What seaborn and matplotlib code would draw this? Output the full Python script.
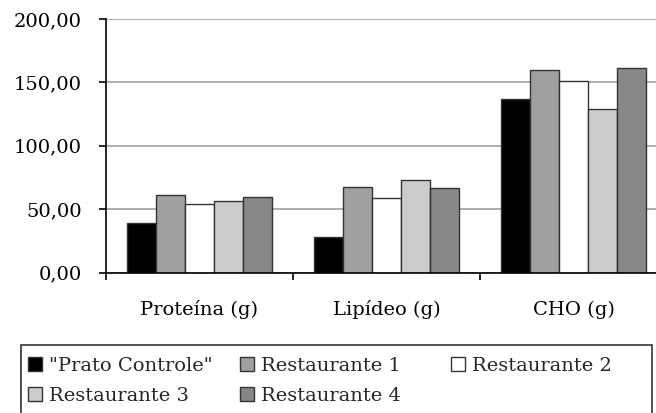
import matplotlib
matplotlib.use('Agg')
import matplotlib.pyplot as plt
import seaborn as sns
import pandas as pd
from matplotlib.patches import Rectangle
from matplotlib.ticker import FuncFormatter

# data
categories = ['Proteína (g)', 'Lipídeo (g)', 'CHO (g)']
groups = ['"Prato Controle"', 'Restaurante 1', 'Restaurante 2',
          'Restaurante 3', 'Restaurante 4']
prato_controle = [39.4, 27.9, 136.7]
restaurante_1 = [61.5, 67.6, 159.9]
restaurante_2 = [54.2, 58.7, 151.4]
restaurante_3 = [56.3, 73.1, 129.1]
restaurante_4 = [59.7, 66.5, 161.2]
colors = ['#000000', '#a0a0a0', '#ffffff', '#cccccc', '#878787']

series = [prato_controle, restaurante_1, restaurante_2, restaurante_3, restaurante_4]
rows = []
for name, values in zip(groups, series):
    for cat, v in zip(categories, values):
        rows.append({'nutriente': cat, 'grupo': name, 'valor': v})
df = pd.DataFrame(rows)

W, H = 656, 413
sns.set_style('white')
plt.rcParams['font.family'] = ['DejaVu Serif']

fig = plt.figure(figsize=(W / 100, H / 100), dpi=100)
ax = fig.add_axes([106 / W, 1 - 272.7 / H, 561 / W, 253.7 / H])

sns.barplot(data=df, x='nutriente', y='valor', hue='grupo',
            order=categories, hue_order=groups, palette=colors,
            width=0.775, saturation=1, edgecolor='#333333', linewidth=1,
            ax=ax)

ax.set_xlim(-0.5, 2.5)
ax.set_ylim(0, 200)
ax.set_yticks([0, 50, 100, 150, 200])
ax.yaxis.set_major_formatter(FuncFormatter(lambda v, p: f'{v:.2f}'.replace('.', ',')))
ax.grid(axis='y', color='#a0a0a0', linewidth=1.2)
ax.grid(axis='x', visible=False)
ax.set_axisbelow(True)
ax.set_xlabel('')
ax.set_ylabel('')

for side in ['top', 'right']:
    ax.spines[side].set_visible(False)
for side in ['left', 'bottom']:
    ax.spines[side].set_color('black')
    ax.spines[side].set_linewidth(1.2)

# boundary ticks between groups, labels at group centres
ax.set_xticks([-0.5, 0.5, 1.5, 2.5], ['', '', '', ''])
ax.set_xticks([0, 1, 2], categories, minor=True)
ax.tick_params(axis='x', which='major', bottom=True, length=5, width=1.2,
               direction='out', color='black')
ax.tick_params(axis='x', which='minor', bottom=True, length=0, pad=20,
               labelsize=14, labelcolor='black')
ax.tick_params(axis='y', left=True, length=5, width=1.2, direction='out',
               color='black', pad=12.5, labelsize=14, labelcolor='black')

# legend in three fixed columns inside a box
handles, labels = ax.get_legend_handles_labels()
ax.get_legend().remove()
columns = [[0, 3], [1, 4], [2]]
col_x = [28, 240, 451]
for idx, x in zip(columns, col_x):
    fig.legend([handles[i] for i in idx], [labels[i] for i in idx],
               loc='upper left', bbox_to_anchor=(x / W, 1 - 357 / H),
               frameon=False, borderpad=0, borderaxespad=0,
               handlelength=0.72, handleheight=0.72, handletextpad=0.35,
               labelspacing=0.6, fontsize=14)

fig.add_artist(Rectangle((21 / W, -0.05), (652 - 21) / W, (413 - 345) / H + 0.05,
                         transform=fig.transFigure, fill=False,
                         edgecolor='#333333', linewidth=1.2))

fig.savefig('out.png', dpi=100)
